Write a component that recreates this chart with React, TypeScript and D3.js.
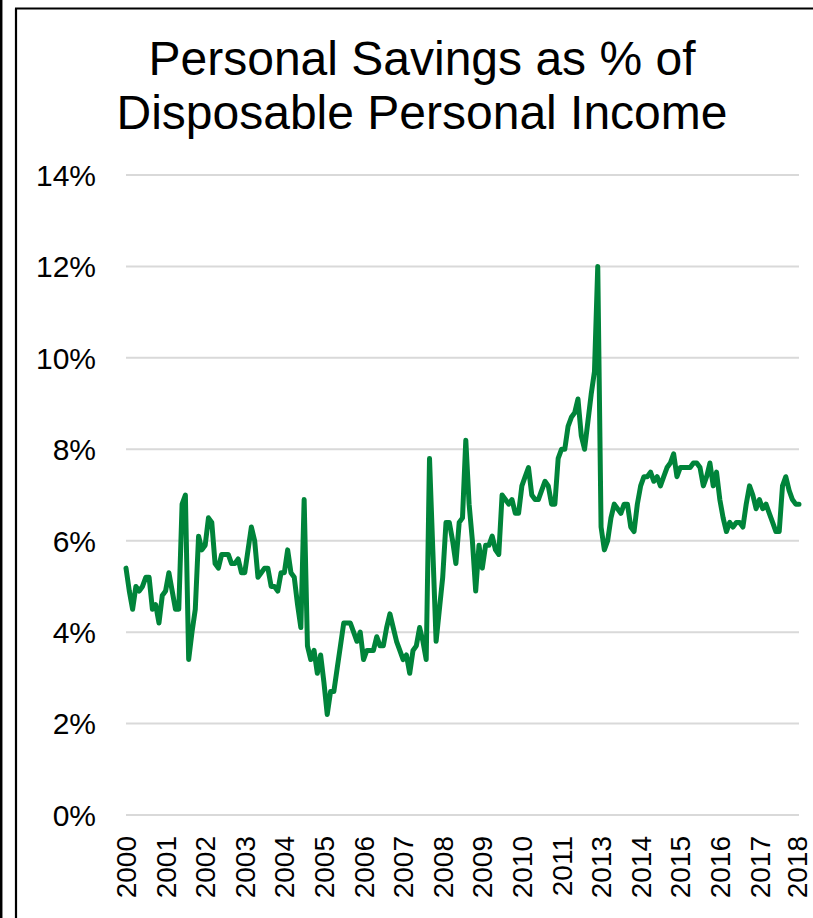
import React from "react";
import * as d3 from "d3";

const titleLines: string[] = ["Personal Savings as % of", "Disposable Personal Income"];

const yTicks: number[] = [0, 2, 4, 6, 8, 10, 12, 14];

const xLabels: string[] = [
  "2000", "2001", "2002", "2003", "2004", "2005", "2006", "2007", "2008",
  "2009", "2010", "2011", "2013", "2014", "2015", "2016", "2017", "2018",
];

const savingsRate: number[] = [
  5.4, 4.9, 4.5, 5.0, 4.9, 5.0, 5.2, 5.2, 4.5, 4.6, 4.2, 4.8,
  4.9, 5.3, 4.9, 4.5, 4.5, 6.8, 7.0, 3.4, 4.0, 4.5, 6.1, 5.8,
  5.9, 6.5, 6.4, 5.5, 5.4, 5.7, 5.7, 5.7, 5.5, 5.5, 5.6, 5.3,
  5.3, 5.8, 6.3, 6.0, 5.2, 5.3, 5.4, 5.4, 5.0, 5.0, 4.9, 5.3,
  5.3, 5.8, 5.3, 5.2, 4.6, 4.1, 6.9, 3.7, 3.4, 3.6, 3.1, 3.5,
  2.9, 2.2, 2.7, 2.7, 3.2, 3.7, 4.2, 4.2, 4.2, 4.0, 3.8, 4.0,
  3.4, 3.6, 3.6, 3.6, 3.9, 3.7, 3.7, 4.1, 4.4, 4.1, 3.8, 3.6,
  3.4, 3.5, 3.1, 3.6, 3.7, 4.1, 3.8, 3.4, 7.8, 5.8, 3.8, 4.5,
  5.2, 6.4, 6.4, 6.0, 5.5, 6.4, 6.5, 8.2, 6.8, 6.0, 4.9, 5.9,
  5.4, 5.9, 5.9, 6.1, 5.8, 5.7, 7.0, 6.9, 6.8, 6.9, 6.6, 6.6,
  7.2, 7.4, 7.6, 7.0, 6.9, 6.9, 7.1, 7.3, 7.2, 6.8, 6.8, 7.8,
  8.0, 8.0, 8.5, 8.7, 8.8, 9.1, 8.3, 8.0, 8.6, 9.2, 9.7, 12.0,
  6.3, 5.8, 6.0, 6.5, 6.8, 6.7, 6.6, 6.8, 6.8, 6.3, 6.2, 6.8,
  7.2, 7.4, 7.4, 7.5, 7.3, 7.4, 7.2, 7.4, 7.6, 7.7, 7.9, 7.4,
  7.6, 7.6, 7.6, 7.6, 7.7, 7.7, 7.6, 7.2, 7.4, 7.7, 7.2, 7.5,
  6.9, 6.5, 6.2, 6.4, 6.3, 6.4, 6.4, 6.3, 6.8, 7.2, 7.0, 6.7,
  6.9, 6.7, 6.8, 6.6, 6.4, 6.2, 6.2, 7.2, 7.4, 7.1, 6.9, 6.8,
  6.8,
];

const LABEL_EVERY = 12;

export default function App() {
  const W = 813;
  const H = 918;
  const left = 126;
  const right = 799;
  const top = 175;
  const bottom = 815;

  const x = d3.scaleLinear().domain([0, savingsRate.length - 1]).range([left, right]);
  const y = d3.scaleLinear().domain([0, 14]).range([bottom, top]);

  const line = d3
    .line<number>()
    .x((_, i) => x(i))
    .y((d) => y(d))
    .curve(d3.curveLinear);

  const font = "Arial, 'Liberation Sans', Helvetica, sans-serif";

  return (
    <div style={{ position: "absolute", left: 0, top: 0 }}>
      <svg width={W} height={H} style={{ display: "block", background: "#fff" }}>
        {/* frame lines */}
        <line x1={1.2} y1={0} x2={1.2} y2={H} stroke="#000" strokeWidth={2.5} />
        <line x1={16} y1={8.5} x2={16} y2={H} stroke="#000" strokeWidth={2.2} />
        <line x1={15} y1={8.5} x2={W} y2={8.5} stroke="#000" strokeWidth={2.2} />

        {/* title */}
        {titleLines.map((t, i) => (
          <text
            key={t}
            x={422}
            y={75 + i * 54}
            textAnchor="middle"
            fontFamily={font}
            fontSize={48}
            fill="#000"
          >
            {t}
          </text>
        ))}

        {/* gridlines */}
        {yTicks.map((t) => (
          <line
            key={"g" + t}
            x1={left}
            x2={right}
            y1={y(t)}
            y2={y(t)}
            stroke="#d9d9d9"
            strokeWidth={2}
          />
        ))}

        {/* y labels */}
        {yTicks.map((t) => (
          <text
            key={"y" + t}
            x={96}
            y={y(t)}
            dy="0.36em"
            textAnchor="end"
            fontFamily={font}
            fontSize={30}
            fill="#000"
          >
            {t + "%"}
          </text>
        ))}

        {/* x labels */}
        {xLabels.map((lab, i) => {
          const xi = x(i * LABEL_EVERY);
          return (
            <text
              key={"x" + lab}
              transform={`translate(${Math.min(xi, 797)},${836}) rotate(-90)`}
              dy="0.36em"
              textAnchor="end"
              fontFamily={font}
              fontSize={28}
              fill="#000"
            >
              {lab}
            </text>
          );
        })}

        {/* data line */}
        <path
          d={line(savingsRate) || ""}
          fill="none"
          stroke="#00843a"
          strokeWidth={5}
          strokeLinejoin="round"
          strokeLinecap="round"
        />
      </svg>
    </div>
  );
}
